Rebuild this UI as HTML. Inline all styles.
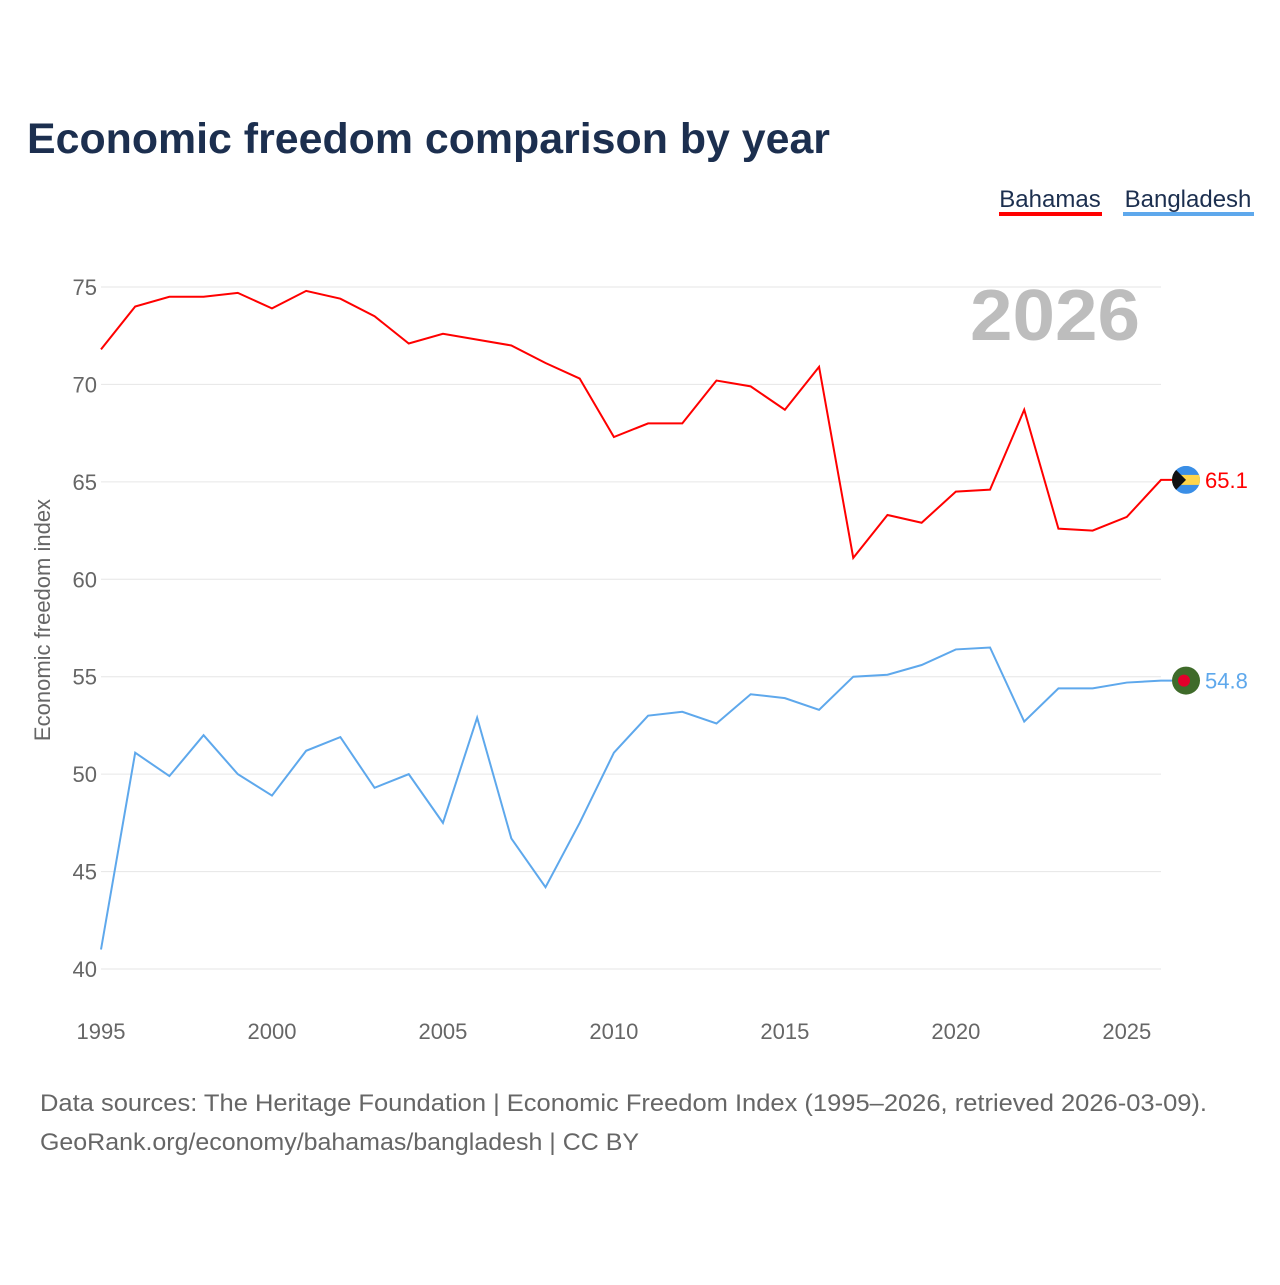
<!DOCTYPE html>
<html><head><meta charset="utf-8"><style>
body{margin:0;background:#fff;font-family:"Liberation Sans",sans-serif;}
svg text{font-family:"Liberation Sans",sans-serif;}
</style></head><body>
<svg id="chart" width="1280" height="1280" xmlns="http://www.w3.org/2000/svg">
<text x="27" y="153" font-size="43" font-weight="bold" fill="#1c2f4f" textLength="803" lengthAdjust="spacingAndGlyphs">Economic freedom comparison by year</text>
<g>
<text x="1050" y="207" font-size="24" fill="#1c2f4f" text-anchor="middle">Bahamas</text>
<rect x="999" y="212" width="103" height="4" fill="#f00"/>
<text x="1188" y="207" font-size="24" fill="#1c2f4f" text-anchor="middle">Bangladesh</text>
<rect x="1123" y="212" width="131" height="4" fill="#5ea8ec"/>
</g>
<text x="1140" y="340" font-size="72" font-weight="bold" fill="#bdbdbd" text-anchor="end" textLength="170" lengthAdjust="spacingAndGlyphs">2026</text>
<text transform="translate(50,620) rotate(-90)" font-size="22" fill="#666" text-anchor="middle">Economic freedom index</text>
<g id="grid"></g><g id="series"></g>
<text x="40" y="1111" font-size="24" fill="#666" textLength="1167" lengthAdjust="spacingAndGlyphs">Data sources: The Heritage Foundation | Economic Freedom Index (1995–2026, retrieved 2026-03-09).</text>
<text x="40" y="1150" font-size="24" fill="#666" textLength="599" lengthAdjust="spacingAndGlyphs">GeoRank.org/economy/bahamas/bangladesh | CC BY</text>
</svg>
<script>
const years=[1995,1996,1997,1998,1999,2000,2001,2002,2003,2004,2005,2006,2007,2008,2009,2010,2011,2012,2013,2014,2015,2016,2017,2018,2019,2020,2021,2022,2023,2024,2025,2026];
const bahamas=[71.8,74.0,74.5,74.5,74.7,73.9,74.8,74.4,73.5,72.1,72.6,72.3,72.0,71.1,70.3,67.3,68.0,68.0,70.2,69.9,68.7,70.9,61.1,63.3,62.9,64.5,64.6,68.7,62.6,62.5,63.2,65.1];
const bangladesh=[41.0,51.1,49.9,52.0,50.0,48.9,51.2,51.9,49.3,50.0,47.5,52.9,46.7,44.2,47.5,51.1,53.0,53.2,52.6,54.1,53.9,53.3,55.0,55.1,55.6,56.4,56.5,52.7,54.4,54.4,54.7,54.8];
const yTicks=[40,45,50,55,60,65,70,75];
const xTicks=[1995,2000,2005,2010,2015,2020,2025];
const NS="http://www.w3.org/2000/svg";
const X=y=>101+(y-1995)*(1060/31);
const Y=v=>969-(v-40)*(682/35);
const grid=document.getElementById('grid'),ser=document.getElementById('series');
function mk(tag,attrs,parent){const e=document.createElementNS(NS,tag);for(const k in attrs)e.setAttribute(k,attrs[k]);parent.appendChild(e);return e;}
yTicks.forEach(v=>{
 const l=mk('line',{x1:101,x2:1161,y1:Y(v),y2:Y(v),stroke:'#e6e6e6','stroke-width':1},grid);
 
 
 const t=mk('text',{x:97,y:Y(v)+8,'font-size':22,fill:'#666','text-anchor':'end'},grid);t.textContent=v;
 
 
});
xTicks.forEach(v=>{
 const t=mk('text',{x:X(v),y:1039,'font-size':22,fill:'#666','text-anchor':'middle'},grid);t.textContent=v;
 
 
});
function line(data,color,name){
 const last=data[data.length-1];
 const pts=data.map((v,i)=>X(years[i])+','+Y(v));
 pts.push('1172,'+Y(last));
 const p=mk('polyline',{points:pts.join(' '),fill:'none',stroke:color,'stroke-width':2},ser);
 
 
 const t=mk('text',{x:1205,y:Y(last)+8,'font-size':22,fill:color},ser);t.textContent=last.toFixed(1);
 
 
 return Y(last);
}
const yb=line(bahamas,'#f00','bahamas');
const yg=line(bangladesh,'#5ea8ec','bangladesh');
const fb=mk('g',{},ser);


mk('clipPath',{id:'cb'},fb).appendChild(document.createElementNS(NS,'circle'));
const cbc=fb.querySelector('#cb circle');cbc.setAttribute('cx',1186);cbc.setAttribute('cy',yb);cbc.setAttribute('r',14);
const gb=mk('g',{'clip-path':'url(#cb)'},fb);
mk('rect',{x:1172,y:yb-14,width:28,height:28,fill:'#3a8ee6'},gb);
mk('rect',{x:1172,y:yb-5,width:28,height:10,fill:'#ffd54a'},gb);
mk('polygon',{points:`1172,${yb-14} 1186,${yb} 1172,${yb+14}`,fill:'#111'},gb);
const fg=mk('g',{},ser);


mk('circle',{cx:1186,cy:yg,r:14,fill:'#3f6b2a'},fg);
mk('circle',{cx:1184,cy:yg,r:6,fill:'#e3002b'},fg);
</script>
</body></html>
